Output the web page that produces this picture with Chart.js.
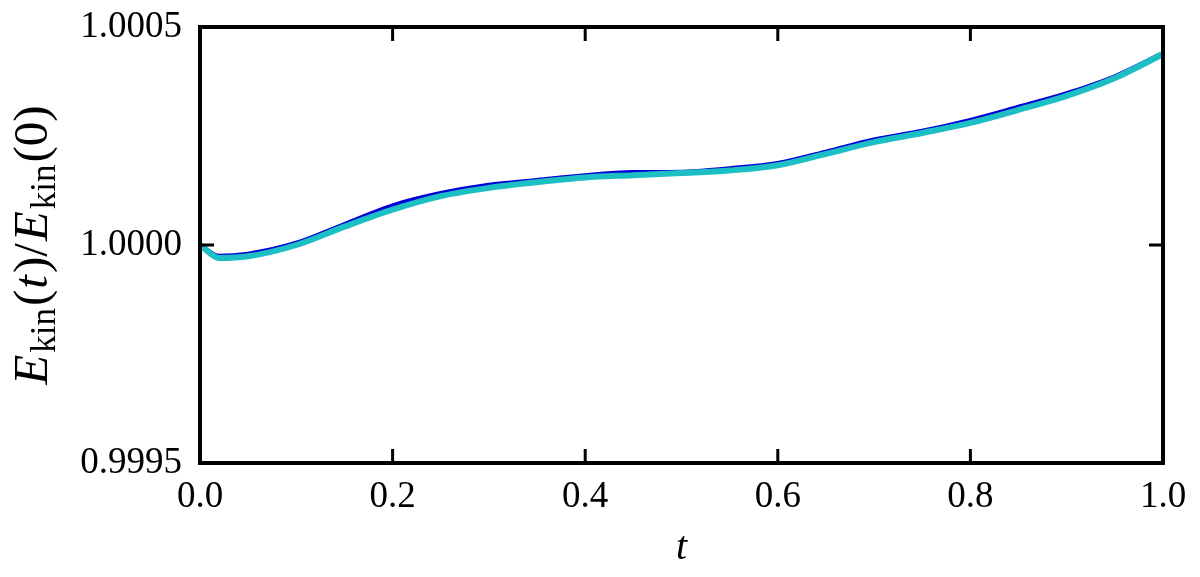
<!DOCTYPE html>
<html>
<head>
<meta charset="utf-8">
<script src="https://cdn.jsdelivr.net/npm/chart.js@4"></script>
<style>
  html, body { margin: 0; padding: 0; background: #fff; }
  #wrap { width: 1200px; height: 577px; }
</style>
</head>
<body>
<div id="wrap"><canvas id="chart" width="1200" height="577"></canvas></div>
<script>
// time samples and the two kinetic energy ratio curves
const times = [0, 0.02, 0.05, 0.1, 0.15, 0.2, 0.25, 0.3, 0.35, 0.4, 0.45, 0.5,
  0.55, 0.6, 0.65, 0.7, 0.75, 0.8, 0.85, 0.9, 0.95, 1.0];
const blueVals = [1.0, 0.999974, 0.999979, 1.000004, 1.000047, 1.00009, 1.000118,
  1.000137, 1.000148, 1.000159, 1.000166, 1.000167, 1.000175, 1.000187, 1.000213,
  1.000241, 1.000261, 1.000286, 1.000316, 1.000347, 1.000386, 1.000439];
const cyanVals = [1.0, 0.99997, 0.999974, 1.0, 1.000042, 1.000081, 1.000112,
  1.000131, 1.000144, 1.000155, 1.00016, 1.000165, 1.000171, 1.000183, 1.000209,
  1.000236, 1.000257, 1.00028, 1.00031, 1.000342, 1.000383, 1.000438];
const xTicks = [0, 0.2, 0.4, 0.6, 0.8, 1.0];
const yTicks = [0.9995, 1.0, 1.0005];

const serif = '"Liberation Serif", "DejaVu Serif", serif';

const toPoints = (vals) => vals.map((v, i) => ({x: times[i], y: v}));

// frame, inward ticks and the y label with subscripts
const framePlugin = {
  id: 'frame',
  afterDraw(chart) {
    const ctx = chart.ctx;
    const a = chart.chartArea;
    const xs = chart.scales.x;
    const ys = chart.scales.y;
    ctx.save();
    ctx.strokeStyle = '#000';
    ctx.lineWidth = 3;
    const tl = 14;
    ctx.beginPath();
    for (const t of xTicks) {
      const px = xs.getPixelForValue(t);
      ctx.moveTo(px, a.bottom); ctx.lineTo(px, a.bottom - tl);
      ctx.moveTo(px, a.top); ctx.lineTo(px, a.top + tl);
    }
    for (const t of yTicks) {
      const py = ys.getPixelForValue(t);
      ctx.moveTo(a.left, py); ctx.lineTo(a.left + tl, py);
      ctx.moveTo(a.right, py); ctx.lineTo(a.right - tl, py);
    }
    ctx.stroke();
    ctx.lineWidth = 4;
    ctx.strokeRect(a.left, a.top, a.right - a.left, a.bottom - a.top);

    // y axis label: E_kin(t)/E_kin(0)
    const big = '49px ' + serif;
    const bigIt = 'italic 49px ' + serif;
    const sub = '35px ' + serif;
    const parts = [
      {t: 'E', f: bigIt, dy: 0, gap: 2},
      {t: 'kin', f: sub, dy: 8, gap: 2},
      {t: '(', f: big, dy: 0, gap: 1},
      {t: 't', f: bigIt, dy: 0, gap: 2},
      {t: ')/', f: big, dy: 0, gap: 2},
      {t: 'E', f: bigIt, dy: 0, gap: 2},
      {t: 'kin', f: sub, dy: 8, gap: 2},
      {t: '(0)', f: big, dy: 0, gap: 0}
    ];
    let total = 0;
    for (const p of parts) {
      ctx.font = p.f;
      p.w = ctx.measureText(p.t).width + p.gap;
      total += p.w;
    }
    ctx.translate(47, (a.top + a.bottom) / 2);
    ctx.rotate(-Math.PI / 2);
    ctx.fillStyle = '#000';
    ctx.textBaseline = 'alphabetic';
    ctx.textAlign = 'left';
    let x = -total / 2;
    for (const p of parts) {
      ctx.font = p.f;
      ctx.fillText(p.t, x, p.dy);
      x += p.w;
    }
    ctx.restore();
  }
};

new Chart(document.getElementById('chart'), {
  type: 'line',
  data: {
    datasets: [{
      data: toPoints(blueVals),
      borderColor: '#0000d8',
      borderWidth: 5,
      pointRadius: 0,
      order: 2,
      cubicInterpolationMode: 'monotone'
    }, {
      data: toPoints(cyanVals),
      borderColor: '#1cbfc4',
      borderWidth: 6,
      pointRadius: 0,
      order: 1,
      cubicInterpolationMode: 'monotone'
    }]
  },
  options: {
    responsive: false,
    animation: false,
    layout: { padding: { left: 0, right: 37, top: 27, bottom: 0 } },
    plugins: { legend: { display: false }, tooltip: { enabled: false } },
    scales: {
      x: {
        type: 'linear',
        min: 0,
        max: 1,
        afterBuildTicks: (s) => { s.ticks = xTicks.map(v => ({value: v})); },
        afterFit: (s) => { s.height = 114; },
        grid: { display: false, drawTicks: false },
        border: { display: false },
        ticks: {
          color: '#000',
          padding: 12,
          maxRotation: 0,
          font: { family: serif, size: 37 },
          callback: (v) => Number(v).toFixed(1)
        },
        title: {
          display: true,
          text: 't',
          color: '#000',
          padding: { top: 0, bottom: 5 },
          font: { family: serif, size: 40, style: 'italic' }
        }
      },
      y: {
        min: 0.9995,
        max: 1.0005,
        afterBuildTicks: (s) => { s.ticks = yTicks.map(v => ({value: v})); },
        afterFit: (s) => { s.width = 200; s.paddingTop = 0; s.paddingBottom = 0; },
        grid: { display: false, drawTicks: false },
        border: { display: false },
        ticks: {
          color: '#000',
          padding: 18,
          font: { family: serif, size: 37 },
          callback: (v) => Number(v).toFixed(4)
        }
      }
    }
  },
  plugins: [framePlugin]
});
</script>
</body>
</html>
